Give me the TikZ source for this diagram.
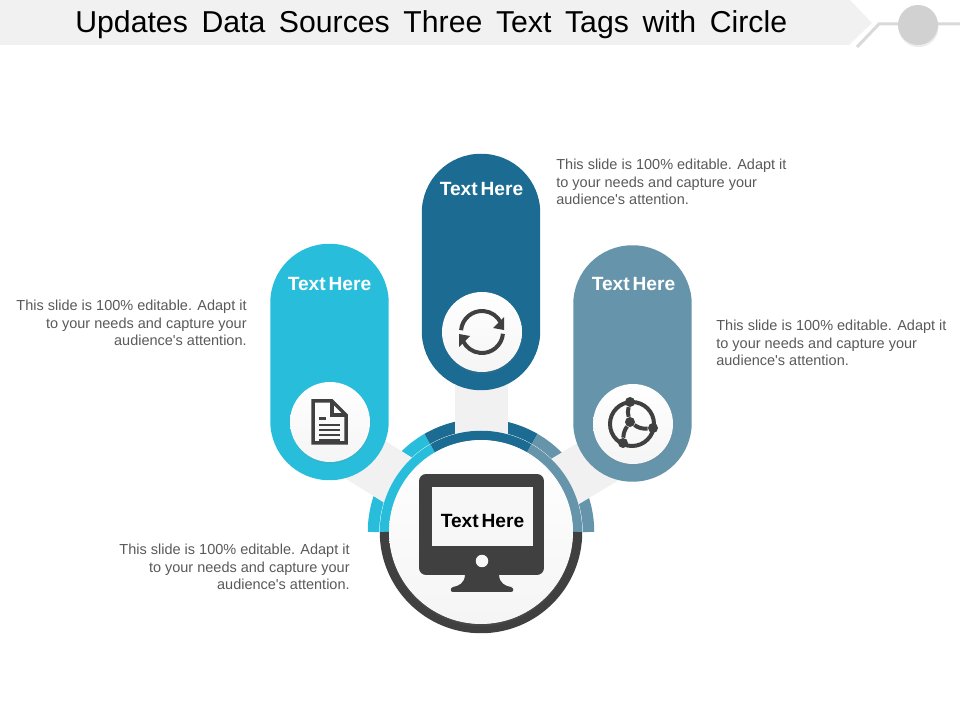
\documentclass[tikz,border=0pt]{standalone}
\usepackage{fontspec}
\setmainfont{Liberation Sans}[WordSpace=0.55]
\newfontfamily\bodyfont{Liberation Sans}
\usetikzlibrary{positioning,shadows,backgrounds}
\definecolor{tagcyan}{HTML}{28BEDB}
\definecolor{tagblue}{HTML}{1C6B93}
\definecolor{tagsteel}{HTML}{6695AB}
\definecolor{inkdark}{HTML}{404040}
\definecolor{barpale}{HTML}{F1F1F1}
\definecolor{bodygray}{HTML}{595959}

\begin{document}
\begin{tikzpicture}[
		x=0.02cm, y=0.02cm,
		pill/.style={draw=none, minimum width=2.37cm, minimum height=4.73cm, rounded corners=1.18cm},
		disc/.style={circle, minimum size=1.6cm, inner sep=0, top color=white, bottom color=black!4,
			drop shadow={opacity=0.12, shadow xshift=0.3pt, shadow yshift=-1.2pt}},
		taglabel/.style={text=white, font=\fontsize{10.9}{12}\selectfont\bfseries, inner sep=0},
		note/.style={text=bodygray, inner sep=0, font=\bodyfont\fontsize{8.25}{9.96}\selectfont},
		bar/.style={line width=1.06cm, barpale},
		iconline/.style={inkdark, line width=0.08cm},
		netdot/.style={circle, fill=inkdark, minimum size=0.2cm, inner sep=0}
	]
	\useasboundingbox (0,0) rectangle (960,720);

	% title banner
	\fill[barpale] (0,720) -- (850,720) -- (872,697) -- (849,675) -- (0,675) -- cycle;
	\node[anchor=west, inner sep=0, font=\fontsize{17.2}{20}\selectfont] (title) at (75,695)
		{\makebox[14.24cm][s]{Updates Data Sources Three Text Tags with Circle}};
	\coordinate (deco1) at (857,673);
	\coordinate (deco2) at (879,696);
	\coordinate (deco3) at (960,696);
	\draw[black!15, line width=0.06cm] (deco1) -- (deco2) -- (deco3);
	\node[circle, fill=black!18, minimum size=0.8cm, inner sep=0,
		drop shadow={opacity=0.15, shadow xshift=0.3pt, shadow yshift=-1.2pt}] (decodisc) at (918,695) {};

	% pills
	\node[pill, fill=tagcyan] (pillL) at (329.5,358) {};
	\node[pill, fill=tagblue] (pillC) at (481,448) {};
	\node[pill, fill=tagsteel] (pillR) at (632.5,356.5) {};
	\node[disc] (docdisc) at (330,298) {};
	\node[disc] (syncdisc) at (482,388) {};
	\node[disc] (netdisc) at (633,296) {};
	\node[taglabel] (tagL) at (329.5,436) {Text Here};
	\node[taglabel] (tagC) at (481.5,531) {Text Here};
	\node[taglabel] (tagR) at (633.5,436) {Text Here};

	% inner ring
	\coordinate (hubc) at (481,188);
	\foreach \col/\a/\b in {tagcyan/180/120, tagblue/120/60, tagsteel/60/0, inkdark/180/360}
		\draw[\col, line width=0.19cm] ([shift={(hubc)}]\a:96.5) arc[start angle=\a, end angle=\b, radius=96.5];
	\node[circle, minimum size=3.68cm, inner sep=0, top color=white, bottom color=black!4,
		drop shadow={opacity=0.12, shadow xshift=0pt, shadow yshift=-1.2pt}] (hub) at (hubc) {};

	% outer ring and bars go below
	\coordinate (barL) at ([shift={(hubc)}]148:190);
	\coordinate (barC) at ([shift={(hubc)}]90:190);
	\coordinate (barR) at ([shift={(hubc)}]31:190);
	\begin{scope}[on background layer]
		\foreach \col/\a/\b in {tagcyan/180/120, tagblue/120/60, tagsteel/60/0}
			\draw[\col, line width=0.23cm] ([shift={(hubc)}]\a:107.5) arc[start angle=\a, end angle=\b, radius=107.5];
		\draw[bar] (hub.center) -- (barL);
		\draw[bar] (hub.center) -- (barC);
		\draw[bar] (hub.center) -- (barR);
	\end{scope}

	% monitor
	\node[fill=inkdark, rounded corners=0.14cm, minimum width=2.5cm, minimum height=2.02cm, inner sep=0] (monitor) at (481.5,195.5) {};
	\node[fill=white!97!black, minimum width=2.02cm, minimum height=1.18cm, inner sep=0] (screen) at (482.5,203.5) {};
	\node[text=black, inner sep=0, font=\fontsize{10.9}{12}\selectfont\bfseries] (screentag) at (482.5,199) {Text Here};
	\node[circle, fill=white!97!black, minimum size=0.25cm, inner sep=0] (lens) at (482,159) {};
	\fill[inkdark] (465,146) .. controls (465,136) and (458,134) .. (453,133)
		.. controls (450,132) and (450,128) .. (453,128) -- (511,128)
		.. controls (514,128) and (514,132) .. (511,133)
		.. controls (506,134) and (499,136) .. (499,146) -- cycle;

	% document icon
	\begin{scope}[shift={(docdisc)}]
		\draw[iconline, line join=miter, line width=0.07cm] (-17,21) -- (2,21) -- (16,7) -- (16,-21) -- (-17,-21) -- cycle;
		\draw[iconline, line width=0.07cm] (2,21) -- (2,7) -- (16,7);
		\draw[inkdark, line width=0.06cm] (-11,3) -- (-4,3);
		\foreach \y in {-3,-8,-13,-18}
			\draw[inkdark, line width=0.04cm] (-11,\y) -- (10,\y);
	\end{scope}

	% sync icon
	\begin{scope}[shift={(syncdisc)}]
		\draw[iconline] (175:21) arc[start angle=175, end angle=25, radius=21];
		\draw[iconline] (-5:21) arc[start angle=-5, end angle=-155, radius=21];
		\fill[inkdark] (11,4) -- (22,2) -- (22,15) -- cycle;
		\fill[inkdark] (-12,-4) -- (-23,-2) -- (-23,-15) -- cycle;
	\end{scope}

	% network icon
	\begin{scope}[shift={(netdisc)}]
		\draw[inkdark, line width=0.08cm] (-1,0) circle[radius=22];
		\node[netdot] (nettop) at (-3,22) {};
		\node[netdot] (netright) at (20,-4) {};
		\node[netdot] (netleft) at (-10,-19) {};
		\node[netdot] (netmid) at (-3,2) {};
		\draw[iconline] (netmid) to[bend left=15] (nettop);
		\draw[iconline] (netmid) to[bend right=20] (netright);
		\draw[iconline] (netmid) to[bend right=15] (netleft);
	\end{scope}

	% notes
	\node[note, anchor=west, align=left] (noteC) at (556,538) {This slide is 100\% editable. Adapt it\\to your needs and capture your\\audience's attention.};
	\node[note, anchor=west, align=left] (noteR) at (716,377) {This slide is 100\% editable. Adapt it\\to your needs and capture your\\audience's attention.};
	\node[note, anchor=east, align=right] (noteL) at (247,397) {This slide is 100\% editable. Adapt it\\to your needs and capture your\\audience's attention.};
	\node[note, anchor=east, align=right] (noteB) at (350,153) {This slide is 100\% editable. Adapt it\\to your needs and capture your\\audience's attention.};
\end{tikzpicture}
\end{document}
